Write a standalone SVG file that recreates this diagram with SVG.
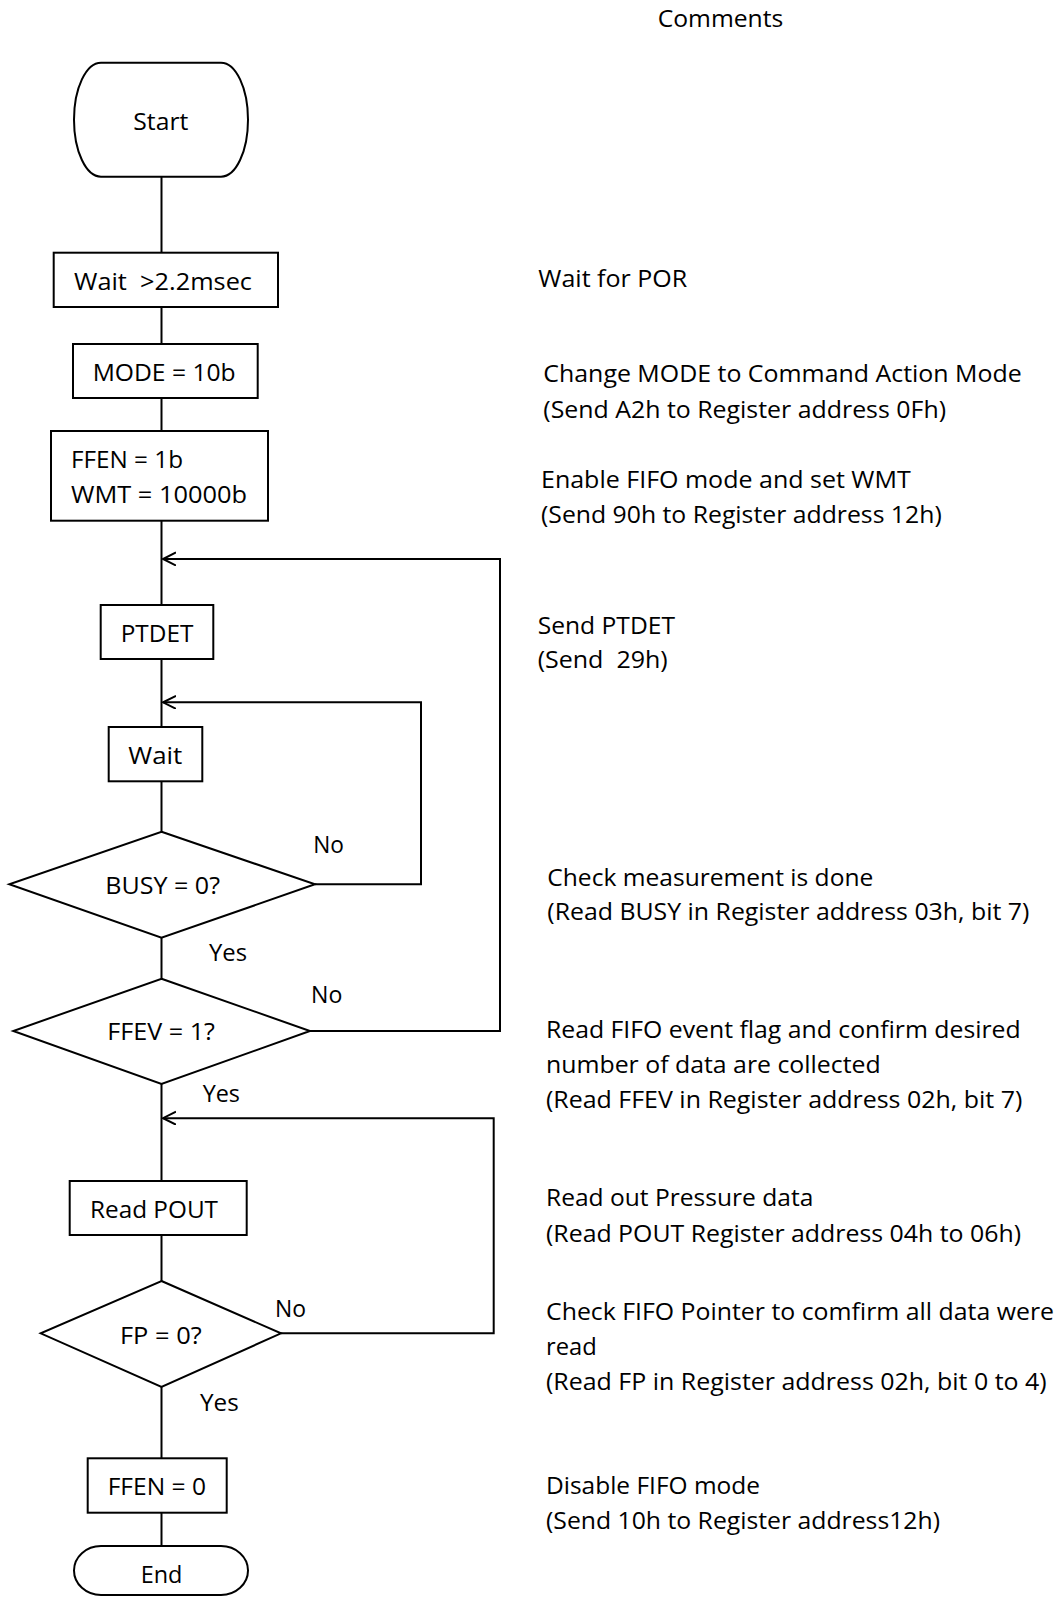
<svg xmlns="http://www.w3.org/2000/svg" width="1063" height="1597" viewBox="0 0 1063 1597">
<style>
  .shape { fill: #ffffff; stroke: #000000; stroke-width: 2; }
  .conn { fill: none; stroke: #000000; stroke-width: 2; }
  text { font-family: "Open Sans", "Noto Sans", "DejaVu Sans", sans-serif; font-size: 24.5px; fill: #000000; }
</style>
<defs>
  <marker id="openArrow" markerUnits="userSpaceOnUse" markerWidth="16" markerHeight="16" refX="13" refY="7" orient="auto" viewBox="0 0 16 16">
    <path d="M0,0.5 L13,7 L0,13.5" fill="none" stroke="#000000" stroke-width="2"/>
  </marker>
</defs>
<rect width="1063" height="1597" fill="#ffffff"/>

<g id="connectors">
  <line class="conn" x1="161.5" y1="176.7" x2="161.5" y2="252.7"/>
  <line class="conn" x1="161.5" y1="307" x2="161.5" y2="344"/>
  <line class="conn" x1="161.5" y1="398" x2="161.5" y2="431"/>
  <line class="conn" x1="161.5" y1="520.7" x2="161.5" y2="605"/>
  <line class="conn" x1="161.5" y1="659" x2="161.5" y2="727"/>
  <line class="conn" x1="161.5" y1="781.3" x2="161.5" y2="831.7"/>
  <line class="conn" x1="161.5" y1="937.7" x2="161.5" y2="978.7"/>
  <line class="conn" x1="161.5" y1="1084" x2="161.5" y2="1181"/>
  <line class="conn" x1="161.5" y1="1235" x2="161.5" y2="1281"/>
  <line class="conn" x1="161.5" y1="1387" x2="161.5" y2="1458.3"/>
  <line class="conn" x1="161.5" y1="1512.7" x2="161.5" y2="1546"/>
  <polyline id="loop-busy" class="conn" points="315,884.3 421,884.3 421,702.3 163,702.3" marker-end="url(#openArrow)"/>
  <polyline id="loop-ffev" class="conn" points="310,1031 500,1031 500,559 163,559" marker-end="url(#openArrow)"/>
  <polyline id="loop-fp" class="conn" points="281,1333.3 493.7,1333.3 493.7,1118.2 163,1118.2" marker-end="url(#openArrow)"/>
  <text x="313.3" y="853.3" textLength="30.7" lengthAdjust="spacingAndGlyphs">No</text>
  <text x="209" y="960.7" textLength="38" lengthAdjust="spacingAndGlyphs">Yes</text>
  <text x="311" y="1003.3" textLength="31.3" lengthAdjust="spacingAndGlyphs">No</text>
  <text x="202.7" y="1101.8" textLength="37.3" lengthAdjust="spacingAndGlyphs">Yes</text>
  <text x="275" y="1316.8" textLength="31" lengthAdjust="spacingAndGlyphs">No</text>
  <text x="200" y="1411" textLength="38.7" lengthAdjust="spacingAndGlyphs">Yes</text>
</g>

<g id="start">
  <rect class="shape" x="74" y="62.7" width="174" height="114" rx="27" ry="57"/>
  <text x="133.3" y="130" textLength="55" lengthAdjust="spacingAndGlyphs">Start</text>
</g>
<g id="wait-por">
  <rect class="shape" x="53.7" y="252.7" width="224.3" height="54.3"/>
  <text x="74" y="290" textLength="178" lengthAdjust="spacingAndGlyphs" xml:space="preserve">Wait  &gt;2.2msec</text>
</g>
<g id="mode">
  <rect class="shape" x="73" y="344" width="184.7" height="54"/>
  <text x="92.7" y="380.7" textLength="143" lengthAdjust="spacingAndGlyphs">MODE = 10b</text>
</g>
<g id="ffen-wmt">
  <rect class="shape" x="51" y="431" width="217" height="89.7"/>
  <text x="71" y="467.7" textLength="112" lengthAdjust="spacingAndGlyphs">FFEN = 1b</text>
  <text x="71" y="502.7" textLength="176" lengthAdjust="spacingAndGlyphs">WMT = 10000b</text>
</g>
<g id="ptdet">
  <rect class="shape" x="100.7" y="605" width="112.6" height="54"/>
  <text x="120.7" y="641.7" textLength="72.7" lengthAdjust="spacingAndGlyphs">PTDET</text>
</g>
<g id="wait">
  <rect class="shape" x="108.7" y="727" width="93.6" height="54.3"/>
  <text x="128.3" y="764" textLength="54" lengthAdjust="spacingAndGlyphs">Wait</text>
</g>
<g id="busy">
  <polygon class="shape" points="161.5,831.7 315,884.3 161.5,937.7 9.3,884.3"/>
  <text x="105.3" y="894.3" textLength="114.7" lengthAdjust="spacingAndGlyphs">BUSY = 0?</text>
</g>
<g id="ffev">
  <polygon class="shape" points="161.5,978.7 310,1031 161.5,1084 13.3,1031"/>
  <text x="107.3" y="1040" textLength="107.7" lengthAdjust="spacingAndGlyphs">FFEV = 1?</text>
</g>
<g id="read-pout">
  <rect class="shape" x="69.7" y="1181" width="177" height="54"/>
  <text x="90" y="1217.5" textLength="128" lengthAdjust="spacingAndGlyphs">Read POUT</text>
</g>
<g id="fp">
  <polygon class="shape" points="161.5,1281 281,1333.3 161.5,1387 40.7,1333.3"/>
  <text x="120" y="1343.5" textLength="81.7" lengthAdjust="spacingAndGlyphs">FP = 0?</text>
</g>
<g id="ffen0">
  <rect class="shape" x="87.7" y="1458.3" width="139" height="54.4"/>
  <text x="107.7" y="1495" textLength="98.3" lengthAdjust="spacingAndGlyphs">FFEN = 0</text>
</g>
<g id="end">
  <rect class="shape" x="74" y="1546" width="174" height="49" rx="27" ry="24.5"/>
  <text x="140.7" y="1583" textLength="41.7" lengthAdjust="spacingAndGlyphs">End</text>
</g>

<g id="comments">
  <text x="657.7" y="26.7" textLength="125.6" lengthAdjust="spacingAndGlyphs">Comments</text>
  <text x="538.3" y="287.3" textLength="149" lengthAdjust="spacingAndGlyphs">Wait for POR</text>
  <text x="543.3" y="381.7" textLength="478.4" lengthAdjust="spacingAndGlyphs">Change MODE to Command Action Mode</text>
  <text x="543.3" y="417.5" textLength="402.7" lengthAdjust="spacingAndGlyphs">(Send A2h to Register address 0Fh)</text>
  <text x="541" y="487.7" textLength="369.7" lengthAdjust="spacingAndGlyphs">Enable FIFO mode and set WMT</text>
  <text x="541" y="523" textLength="400.7" lengthAdjust="spacingAndGlyphs">(Send 90h to Register address 12h)</text>
  <text x="537.7" y="634.3" textLength="137.3" lengthAdjust="spacingAndGlyphs">Send PTDET</text>
  <text x="537.7" y="667.7" textLength="130" lengthAdjust="spacingAndGlyphs" xml:space="preserve">(Send  29h)</text>
  <text x="547.3" y="885.7" textLength="326" lengthAdjust="spacingAndGlyphs">Check measurement is done</text>
  <text x="547.3" y="920" textLength="482" lengthAdjust="spacingAndGlyphs">(Read BUSY in Register address 03h, bit 7)</text>
  <text x="546" y="1038" textLength="474.7" lengthAdjust="spacingAndGlyphs">Read FIFO event flag and confirm desired</text>
  <text x="546" y="1073.3" textLength="334.7" lengthAdjust="spacingAndGlyphs">number of data are collected</text>
  <text x="546" y="1108.3" textLength="476.3" lengthAdjust="spacingAndGlyphs">(Read FFEV in Register address 02h, bit 7)</text>
  <text x="546" y="1206" textLength="267.3" lengthAdjust="spacingAndGlyphs">Read out Pressure data</text>
  <text x="546" y="1241.7" textLength="475" lengthAdjust="spacingAndGlyphs">(Read POUT Register address 04h to 06h)</text>
  <text x="546" y="1320" textLength="508" lengthAdjust="spacingAndGlyphs">Check FIFO Pointer to comfirm all data were</text>
  <text x="546" y="1355" textLength="50.7" lengthAdjust="spacingAndGlyphs">read</text>
  <text x="546" y="1390" textLength="500.7" lengthAdjust="spacingAndGlyphs">(Read FP in Register address 02h, bit 0 to 4)</text>
  <text x="546" y="1494" textLength="214" lengthAdjust="spacingAndGlyphs">Disable FIFO mode</text>
  <text x="546" y="1529" textLength="394" lengthAdjust="spacingAndGlyphs">(Send 10h to Register address12h)</text>
</g>
</svg>
